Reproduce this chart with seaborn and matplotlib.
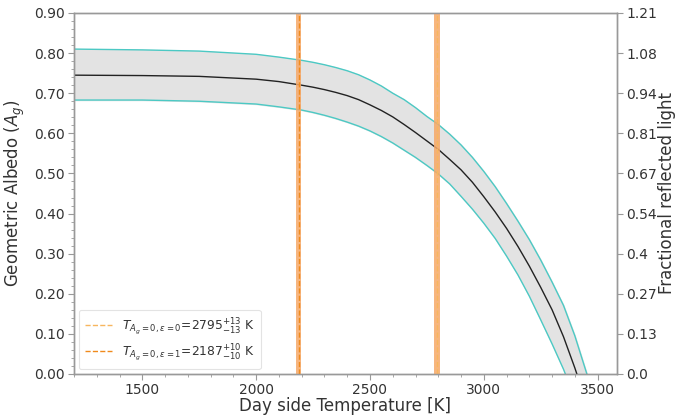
import numpy as np
import pandas as pd
import matplotlib
matplotlib.use("Agg")
import matplotlib.pyplot as plt
from matplotlib.ticker import AutoMinorLocator, FixedLocator
import seaborn as sns

# ---- data ----
temperature = [1200, 1500, 1750, 2000, 2100, 2200, 2250, 2300, 2350, 2400, 2450, 2500,
               2550, 2600, 2650, 2700, 2750, 2800, 2850, 2900, 2950, 3000, 3050,
               3100, 3150, 3200, 3250, 3300, 3350, 3400, 3450, 3500]
albedo_mid = [0.745, 0.744, 0.742, 0.735, 0.729, 0.720, 0.715, 0.709, 0.702, 0.694, 0.684, 0.671,
              0.657, 0.641, 0.622, 0.602, 0.581, 0.560, 0.535, 0.509, 0.478, 0.442, 0.404,
              0.363, 0.318, 0.269, 0.216, 0.160, 0.093, 0.015, -0.07, -0.16]
albedo_hi = [0.810, 0.808, 0.805, 0.797, 0.790, 0.782, 0.777, 0.771, 0.764, 0.756, 0.746, 0.733,
             0.718, 0.700, 0.684, 0.664, 0.642, 0.622, 0.598, 0.571, 0.540, 0.505, 0.467,
             0.425, 0.381, 0.335, 0.284, 0.229, 0.171, 0.095, 0.005, -0.09]
albedo_lo = [0.683, 0.683, 0.680, 0.673, 0.666, 0.658, 0.652, 0.645, 0.637, 0.628, 0.618, 0.606,
             0.592, 0.576, 0.558, 0.540, 0.520, 0.499, 0.474, 0.443, 0.411, 0.376, 0.338,
             0.294, 0.247, 0.194, 0.135, 0.075, 0.012, -0.06, -0.14, -0.22]

t_eps0, t_eps0_err = 2795, 13
t_eps1, t_eps1_err = 2187, 10

left_ticks = [0.0, 0.1, 0.2, 0.3, 0.4, 0.5, 0.6, 0.7, 0.8, 0.9]
right_labels = ["0.0", "0.13", "0.27", "0.4", "0.54", "0.67", "0.81", "0.94", "1.08", "1.21"]
x_ticks = [1500, 2000, 2500, 3000, 3500]

df = pd.DataFrame({"T": temperature, "mid": albedo_mid, "hi": albedo_hi, "lo": albedo_lo})

sns.set_style("ticks")
plt.rcParams["font.family"] = ["DejaVu Sans"]
text_col = "#333333"
spine_col = "#999999"

fig = plt.figure(figsize=(6.93, 4.15), dpi=100)
ax = fig.add_axes([0.1068, 0.0988, 0.7835, 0.8699])

ax.fill_between(df["T"], df["lo"], df["hi"], color="#e3e3e3", zorder=1)
sns.lineplot(data=df, x="T", y="hi", color="#4cc9c4", lw=1.0, ax=ax, zorder=2)
sns.lineplot(data=df, x="T", y="lo", color="#4cc9c4", lw=1.0, ax=ax, zorder=2)
sns.lineplot(data=df, x="T", y="mid", color="#222222", lw=1.0, ax=ax, zorder=3)

ax.axvspan(t_eps0 - t_eps0_err, t_eps0 + t_eps0_err, color="#f6a867", alpha=0.85, lw=0, zorder=4)
ax.axvspan(t_eps1 - t_eps1_err, t_eps1 + t_eps1_err, color="#f6a867", alpha=0.85, lw=0, zorder=4)
ax.axvline(t_eps0, color="#f7b65e", ls="--", lw=1.0, zorder=5,
           label=r"$T_{A_g=0,\epsilon=0}$=2795$^{+13}_{-13}$ K")
ax.axvline(t_eps1, color="#f08a1c", ls="--", lw=1.0, zorder=5,
           label=r"$T_{A_g=0,\epsilon=1}$=2187$^{+10}_{-10}$ K")

ax.set_xlim(1200, 3585)
ax.set_ylim(0, 0.9)
ax.set_xticks(x_ticks)
ax.set_yticks(left_ticks)
ax.set_yticklabels([f"{v:.2f}" for v in left_ticks])
ax.xaxis.set_minor_locator(AutoMinorLocator(5))
ax.yaxis.set_minor_locator(AutoMinorLocator(5))
ax.set_xlabel("Day side Temperature [K]", fontsize=12, color=text_col, labelpad=0)
ax.set_ylabel(r"Geometric Albedo ($A_g$)", fontsize=12, color=text_col, labelpad=5)

leg = ax.legend(loc="lower left", fontsize=8.8, frameon=True, handlelength=2.2,
                borderpad=0.5, labelspacing=0.45, borderaxespad=0.4)
leg.get_frame().set_edgecolor("#dddddd")
leg.get_frame().set_linewidth(0.8)
for t in leg.get_texts():
    t.set_color(text_col)

ax2 = ax.twinx()
ax2.set_ylim(0, 0.9)
ax2.yaxis.set_major_locator(FixedLocator(left_ticks))
ax2.set_yticklabels(right_labels)
ax2.set_ylabel("Fractional reflected light", fontsize=12, color=text_col, labelpad=1)

for a in (ax, ax2):
    for s in a.spines.values():
        s.set_color(spine_col)
        s.set_linewidth(1.0)
    a.tick_params(which="both", colors=spine_col, labelcolor=text_col, labelsize=10)
    a.tick_params(which="major", length=4, pad=2.5)
    a.tick_params(which="minor", length=2)

fig.savefig("out.png", dpi=100)
